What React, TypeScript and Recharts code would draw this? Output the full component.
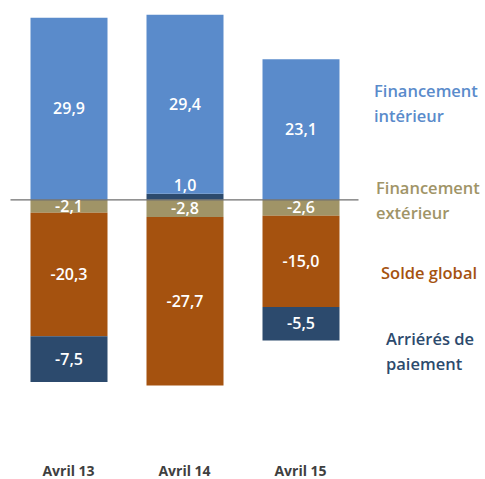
import { BarChart, Bar, XAxis, YAxis, ReferenceLine, LabelList } from "recharts";

const categories = ["Avril 13", "Avril 14", "Avril 15"];
const financementInterieur = [29.9, 29.4, 23.1];
const financementExterieur = [-2.1, -2.8, -2.6];
const soldeGlobal = [-20.3, -27.7, -15.0];
const arrieres = [-7.5, 1.0, -5.5];

const COLORS = {
  interieur: "#5A8BCB",
  exterieur: "#A09467",
  solde: "#A5520F",
  arrieres: "#2C4A6D",
};

const data = categories.map((name, i) => ({
  name,
  interieur: financementInterieur[i],
  exterieur: financementExterieur[i],
  solde: soldeGlobal[i],
  arrieres: arrieres[i],
}));

const legendItems = [
  { lines: ["Financement", "intérieur"], color: COLORS.interieur, left: 374, top: 78 },
  { lines: ["Financement", "extérieur"], color: COLORS.exterieur, left: 376, top: 175 },
  { lines: ["Solde global"], color: COLORS.solde, left: 381, top: 260 },
  { lines: ["Arriérés de", "paiement"], color: COLORS.arrieres, left: 386, top: 326 },
];

const FONT = "'Open Sans', sans-serif";

const fmt = (v: number) => v.toFixed(1).replace(".", ",");

function SegmentLabel(props: any) {
  const { x, y, width, height, value } = props;
  const small = Math.abs(height) < 10;
  const cy = small && value > 0 ? y + height / 2 - 11 : y + height / 2;
  return (
    <text
      x={x + width / 2}
      y={cy}
      dy="0.35em"
      textAnchor="middle"
      fill="#fff"
      fontFamily={FONT}
      fontWeight={600}
      fontSize={16}
    >
      {fmt(value)}
    </text>
  );
}

function CategoryTick(props: any) {
  const { x, payload } = props;
  return (
    <text x={x} y={476} textAnchor="middle" fill="#3f3f3f" fontFamily={FONT} fontWeight={700} fontSize={14}>
      {payload.value}
    </text>
  );
}

export default function App() {
  return (
    <div style={{ position: "absolute", left: 0, top: 0, width: 485, height: 479, background: "#fff" }}>
      <BarChart
        width={485}
        height={479}
        data={data}
        stackOffset="sign"
        margin={{ top: 5, right: 126.5, left: 10.5, bottom: 0 }}
      >
        <XAxis dataKey="name" axisLine={false} tickLine={false} height={66} tick={<CategoryTick />} interval={0} />
        <YAxis hide domain={[-35, 32]} />
        <Bar dataKey="exterieur" stackId="a" fill={COLORS.exterieur} barSize={77} isAnimationActive={false}>
          <LabelList dataKey="exterieur" content={<SegmentLabel />} />
        </Bar>
        <Bar dataKey="solde" stackId="a" fill={COLORS.solde} barSize={77} isAnimationActive={false}>
          <LabelList dataKey="solde" content={<SegmentLabel />} />
        </Bar>
        <Bar dataKey="arrieres" stackId="a" fill={COLORS.arrieres} barSize={77} isAnimationActive={false}>
          <LabelList dataKey="arrieres" content={<SegmentLabel />} />
        </Bar>
        <Bar dataKey="interieur" stackId="a" fill={COLORS.interieur} barSize={77} isAnimationActive={false}>
          <LabelList dataKey="interieur" content={<SegmentLabel />} />
        </Bar>
        <ReferenceLine y={0} stroke="#6e6e6e" strokeWidth={1.2} />
      </BarChart>
      {legendItems.map((item) => (
        <div
          key={item.lines[0] + item.top}
          style={{
            position: "absolute",
            left: item.left,
            top: item.top,
            color: item.color,
            fontFamily: FONT,
            fontWeight: 600,
            fontSize: 16.5,
            lineHeight: "25px",
            whiteSpace: "nowrap",
          }}
        >
          {item.lines.map((l) => (
            <div key={l}>{l}</div>
          ))}
        </div>
      ))}
    </div>
  );
}
